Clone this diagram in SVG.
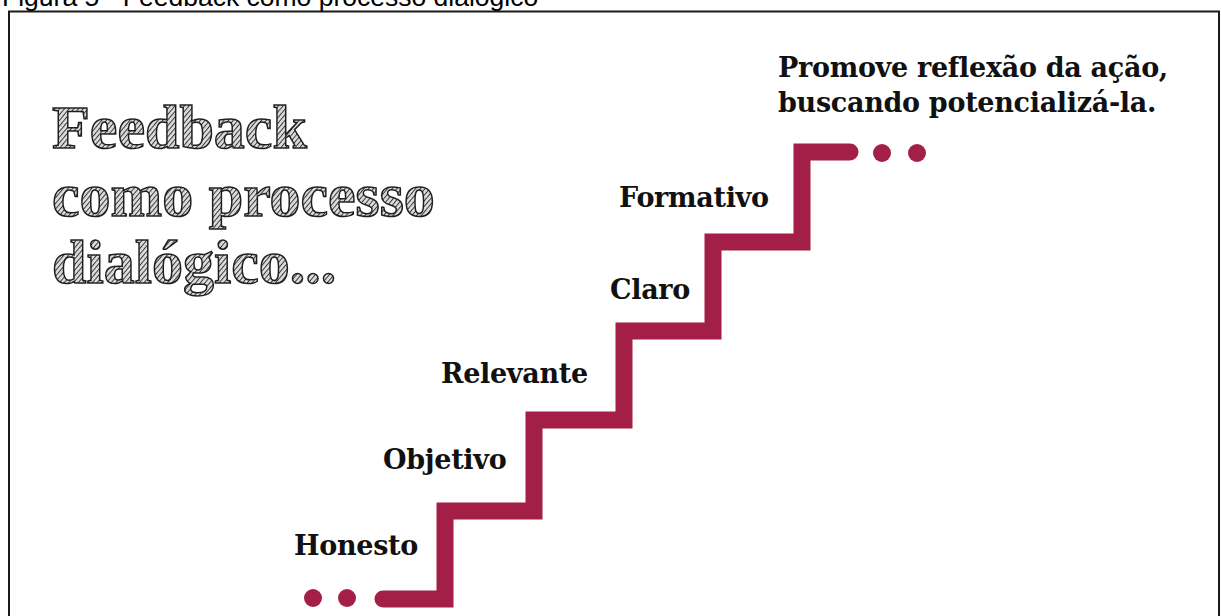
<svg xmlns="http://www.w3.org/2000/svg" width="1221" height="616" viewBox="0 0 1221 616">
  <style>
    .lbl { font-family: "DejaVu Serif", "Liberation Serif", serif; font-weight: bold; font-size: 27px; letter-spacing: -0.3px; fill: #111; }
    .ttl { font-family: "Liberation Serif", "DejaVu Serif", serif; font-weight: bold; font-size: 62px; fill: url(#hatch); stroke: #1e1e1e; stroke-width: 1.5; }
    .cap { font-family: "Liberation Sans", Arial, sans-serif; font-size: 26.5px; fill: #000; }
    .stair { fill: none; stroke: #A31F48; stroke-width: 17; stroke-linejoin: miter; stroke-linecap: round; }
    .dot { fill: #A31F48; }
  </style>
  <defs>
    <pattern id="hatch" patternUnits="userSpaceOnUse" width="3.6" height="3.6" patternTransform="rotate(40)">
      <rect width="3.6" height="3.6" fill="#dcdcdc"/>
      <line x1="0" y1="0" x2="0" y2="3.6" stroke="#333" stroke-width="1.9"/>
    </pattern>
  </defs>
  <rect width="1221" height="616" fill="#fff"/>
  <text class="cap" x="2" y="5.5">Figura 5 - Feedback como processo dialógico</text>
  <rect x="9" y="11.5" width="1210" height="700" fill="none" stroke="#1a1a1a" stroke-width="2"/>

  <g id="title">
    <text class="ttl" x="52" y="148">Feedback</text>
    <text class="ttl" x="52" y="216">como processo</text>
    <text class="ttl" x="52" y="283">dialógico...</text>
  </g>

  <g id="connectors">
    <path class="stair" d="M383,599 H445 V511 H534 V420 H624 V331 H713 V242 H802 V152 H850"/>
    <circle class="dot" cx="313" cy="598" r="9"/>
    <circle class="dot" cx="347" cy="598" r="9"/>
    <circle class="dot" cx="882" cy="153" r="9"/>
    <circle class="dot" cx="917" cy="153" r="9"/>
  </g>

  <g id="honesto"><text class="lbl" x="294" y="555">Honesto</text></g>
  <g id="objetivo"><text class="lbl" x="383" y="469">Objetivo</text></g>
  <g id="relevante"><text class="lbl" x="441" y="383">Relevante</text></g>
  <g id="claro"><text class="lbl" x="610" y="299">Claro</text></g>
  <g id="formativo"><text class="lbl" x="619" y="207">Formativo</text></g>
  <g id="promove">
    <text class="lbl" x="778" y="77">Promove reflexão da ação,</text>
    <text class="lbl" x="778" y="112">buscando potencializá-la.</text>
  </g>
</svg>
